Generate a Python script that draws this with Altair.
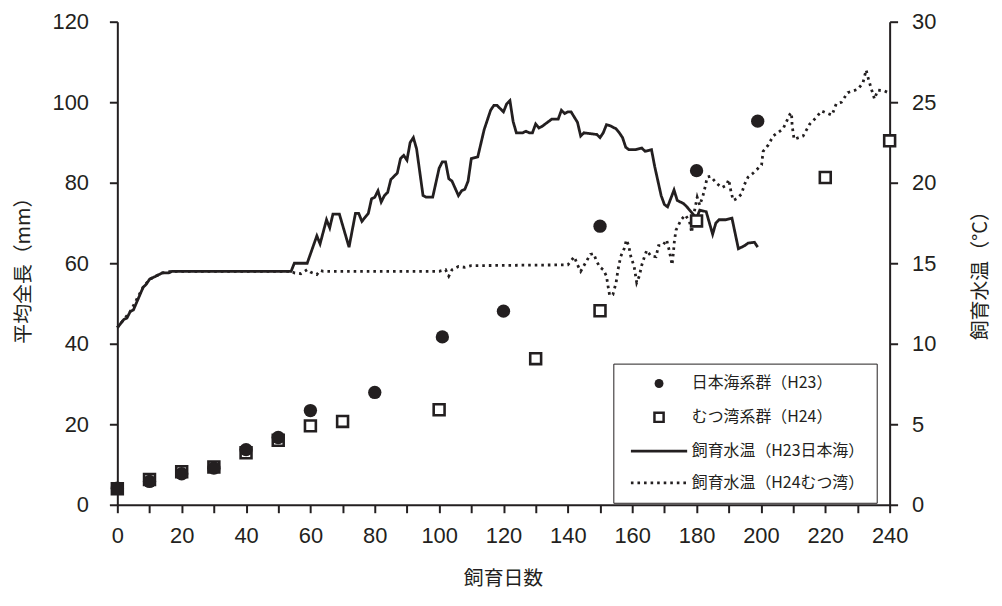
import altair as alt
import pandas as pd

INK = "#231f20"
CJK = "Noto Sans CJK JP"
NUM = "Liberation Sans"

S_H23 = "日本海系群（H23）"
S_H24 = "むつ湾系群（H24）"
S_T23 = "飼育水温（H23日本海）"
S_T24 = "飼育水温（H24むつ湾）"
SERIES = [S_H23, S_H24, S_T23, S_T24]

# mean total length (mm)
h23_days = [0, 10, 20, 30, 40, 50, 60, 80, 101, 120, 150, 180, 199]
h23_len = [4.1, 5.8, 7.7, 9.1, 13.7, 16.7, 23.4, 27.9, 41.7, 48.1, 69.2, 83.0, 95.3]
h24_days = [0, 10, 20, 30, 40, 50, 60, 70, 100, 130, 150, 180, 220, 240]
h24_len = [4.0, 6.3, 8.2, 9.4, 12.9, 16.0, 19.6, 20.7, 23.6, 36.3, 48.2, 70.5, 81.3, 90.4]

# rearing water temperature (°C)
t23_days = [0, 2, 3, 4, 5, 8, 9, 10, 11, 12,
            13, 14, 16, 17, 54, 55, 59, 62, 63, 65,
            66, 67, 69, 72, 74, 75, 76, 78, 79, 80,
            81, 82, 83, 84, 85, 87, 88, 89, 90, 91,
            92, 93, 95, 96, 98, 100, 101, 102, 103, 104,
            106, 107, 108, 109, 110, 112, 114, 116, 117, 118,
            120, 121, 122, 123, 124, 126, 127, 128, 129, 130,
            131, 132, 133, 135, 137, 138, 139, 140, 141, 143,
            144, 145, 147, 149, 150, 151, 152, 153, 155, 156,
            157, 158, 159, 161, 163, 164, 166, 167, 169, 170,
            171, 173, 174, 176, 177, 180, 181, 183, 185, 186,
            187, 189, 191, 193, 195, 196, 198, 199]
t23_temp = [11.0, 11.5, 11.6, 12.0, 12.1, 13.5, 13.7, 14.0, 14.1, 14.2,
            14.3, 14.4, 14.4, 14.5, 14.5, 15.0, 15.0, 16.7, 16.2, 17.7,
            17.2, 18.05, 18.05, 16.0, 18.1, 18.1, 17.6, 18.1, 19.0, 19.1,
            19.5, 18.8, 19.2, 19.4, 20.2, 20.6, 21.5, 21.7, 21.4, 22.5,
            22.8, 22.1, 19.2, 19.1, 19.1, 20.9, 21.3, 21.3, 20.25, 20.1,
            19.2, 19.5, 19.6, 20.1, 21.5, 21.6, 23.3, 24.5, 24.8, 24.8,
            24.4, 24.9, 25.1, 23.8, 23.1, 23.1, 23.2, 23.1, 23.1, 23.65,
            23.4, 23.5, 23.65, 23.95, 23.95, 24.5, 24.3, 24.4, 24.4, 23.75,
            22.9, 23.1, 23.05, 23.0, 22.8, 23.1, 23.6, 23.55, 23.35, 23.1,
            22.8, 22.2, 22.05, 22.05, 22.15, 21.95, 22.05, 21.0, 19.2, 18.65,
            18.5, 19.55, 18.9, 18.7, 18.5, 17.8, 18.3, 18.2, 16.8, 17.5,
            17.7, 17.7, 17.8, 15.9, 16.1, 16.25, 16.3, 16.0]

t24_days = [0, 4, 8, 10, 14, 17, 54, 55, 57, 59,
            60, 62, 63, 64, 100, 102, 103, 104, 106, 108,
            110, 140, 142, 143, 144, 146, 147, 148, 149, 150,
            151, 152, 152.6, 153, 154, 155, 155.6, 156.4, 157.5, 158.2,
            158.9, 159.6, 160.6, 161.4, 162.2, 163, 163.8, 164.5, 165.8, 167.4,
            168.2, 169.5, 170.7, 171.5, 172, 172.4, 172.8, 173.1, 173.6, 175.2,
            176.5, 177.8, 178.5, 179.2, 179.7, 180.2, 181, 182, 182.8, 183.3,
            184.3, 185, 186.3, 187.9, 189.3, 190, 190.7, 191.4, 192.4, 194,
            194.8, 196, 197.6, 200.2, 200.7, 202.3, 203.8, 206.9, 209, 209.5,
            209.7, 210.3, 213.1, 215.2, 217.2, 218.8, 222.1, 223.4, 225, 227,
            230.1, 231.7, 232.7, 233.2, 234.2, 235.3, 236.3, 238.4, 240]
t24_temp = [11.0, 12.0, 13.5, 14.0, 14.4, 14.5, 14.5, 14.4, 14.35, 14.6,
            14.45, 14.3, 14.55, 14.5, 14.5, 14.6, 14.2, 14.6, 14.8, 14.75,
            14.85, 14.9, 15.4, 14.9, 14.5, 15.2, 15.55, 15.6, 15.1, 14.75,
            14.6, 14.2, 13.45, 13.0, 13.05, 13.8, 14.6, 15.4, 15.9, 16.45,
            16.1, 15.4, 14.8, 13.8, 14.2, 14.9, 15.4, 15.8, 15.45, 15.4,
            16.1, 16.1, 16.45, 15.8, 15.3, 14.9, 15.65, 16.35, 17.05, 17.7,
            18.0, 17.6, 16.9, 18.1, 18.6, 19.1, 18.6, 19.2, 19.85, 20.35,
            20.4, 20.25, 19.95, 19.7, 19.85, 20.2, 19.45, 18.9, 19.0, 19.3,
            19.85, 20.35, 20.6, 21.1, 21.95, 22.35, 22.9, 23.35, 24.25, 24.35,
            23.55, 22.7, 22.9, 23.65, 24.05, 24.45, 24.2, 24.9, 25.0, 25.6,
            25.8, 26.2, 27.0, 26.6, 25.9, 25.2, 25.75, 25.7, 25.55]

x_ticks = list(range(0, 241, 10))
y_left_ticks = list(range(0, 121, 20))
y_right_ticks = list(range(0, 31, 5))

df23 = pd.DataFrame({"day": h23_days, "len": h23_len})
df24 = pd.DataFrame({"day": h24_days, "len": h24_len})
dft = pd.DataFrame({
    "day": t23_days + t24_days,
    "temp": t23_temp + t24_temp,
    "series": [S_T23] * len(t23_days) + [S_T24] * len(t24_days),
})

common_axis = dict(grid=False, domainColor=INK, tickColor=INK, labelColor=INK, titleColor=INK,
                   domainWidth=2, tickWidth=2, tickSize=8, labelFont=NUM, labelFontSize=22,
                   titleFont=CJK, titleFontSize=20, titleFontWeight="normal",
                   titleBaseline="middle", titleAlign="center")

x_axis = alt.Axis(values=x_ticks, labelExpr="datum.value % 20 === 0 ? datum.label : ''",
                  title="飼育日数", labelPadding=13, titleX=388, titleY=74,
                  labelOverlap=False, labelFlush=False, **common_axis)
left_axis = alt.Axis(values=y_left_ticks, orient="left", title="平均全長（mm）",
                     labelPadding=21, titleX=-94, titleY=245, titleAngle=270, **common_axis)
right_axis = alt.Axis(values=y_right_ticks, orient="right", title="飼育水温（°C）",
                      labelPadding=14, titleX=91, titleY=250, titleAngle=270, **common_axis)

x_scale = alt.Scale(domain=[0, 240], nice=False)
len_scale = alt.Scale(domain=[0, 120], nice=False)
temp_scale = alt.Scale(domain=[0, 30], nice=False)


def pick(a, b, c):
    return f"datum.value === '{S_H23}' ? {a} : datum.value === '{S_H24}' ? {b} : {c}"


legend = alt.Legend(
    title=None, orient="none", legendX=499, legendY=344, direction="vertical", columns=1,
    padding=12, strokeColor=INK, fillColor="white",
    labelFont=CJK, labelFontSize=16, labelColor=INK, labelLimit=400,
    labelOffset=25, symbolOffset=26, rowPadding=16,
    symbolType=alt.ExprRef(expr=pick("'circle'", "'square'", "'M-5.66,0H5.66'")),
    symbolSize=alt.ExprRef(expr=pick("80", "85", "100")),
    symbolFillColor=alt.ExprRef(expr=pick(f"'{INK}'", "'#ffffff'", "'transparent'")),
    symbolStrokeWidth=alt.ExprRef(expr=pick("0", "2.5", "2.6")),
    symbolStrokeColor=INK,
)

lines = alt.Chart(dft).mark_line(strokeWidth=2.8, color=INK).encode(
    x=alt.X("day:Q", scale=x_scale, axis=x_axis),
    y=alt.Y("temp:Q", scale=temp_scale, axis=right_axis),
    strokeDash=alt.StrokeDash("series:N",
                              scale=alt.Scale(domain=SERIES, range=[[1, 0], [1, 0], [1, 0], [2.6, 4]]),
                              legend=legend),
    order="day:Q",
)

squares = alt.Chart(df24).mark_point(shape="square", size=120, fill="white", stroke=INK,
                                     strokeWidth=2.6, opacity=1, fillOpacity=1).encode(
    x=alt.X("day:Q", scale=x_scale, axis=x_axis),
    y=alt.Y("len:Q", scale=len_scale, axis=left_axis),
)

circles = alt.Chart(df23).mark_point(shape="circle", size=180, filled=True, color=INK,
                                     opacity=1).encode(
    x=alt.X("day:Q", scale=x_scale, axis=x_axis),
    y=alt.Y("len:Q", scale=len_scale, axis=left_axis),
)

chart = alt.layer(lines, alt.layer(squares, circles)).resolve_scale(y="independent").properties(
    width=777, height=486,
    padding={"left": 110, "top": 12, "right": 105, "bottom": 90},
    autosize=alt.AutoSizeParams(type="none"),
    background="white",
).configure_view(stroke=None)

chart.save("out.html", embed_options={"renderer": "svg", "actions": False})
